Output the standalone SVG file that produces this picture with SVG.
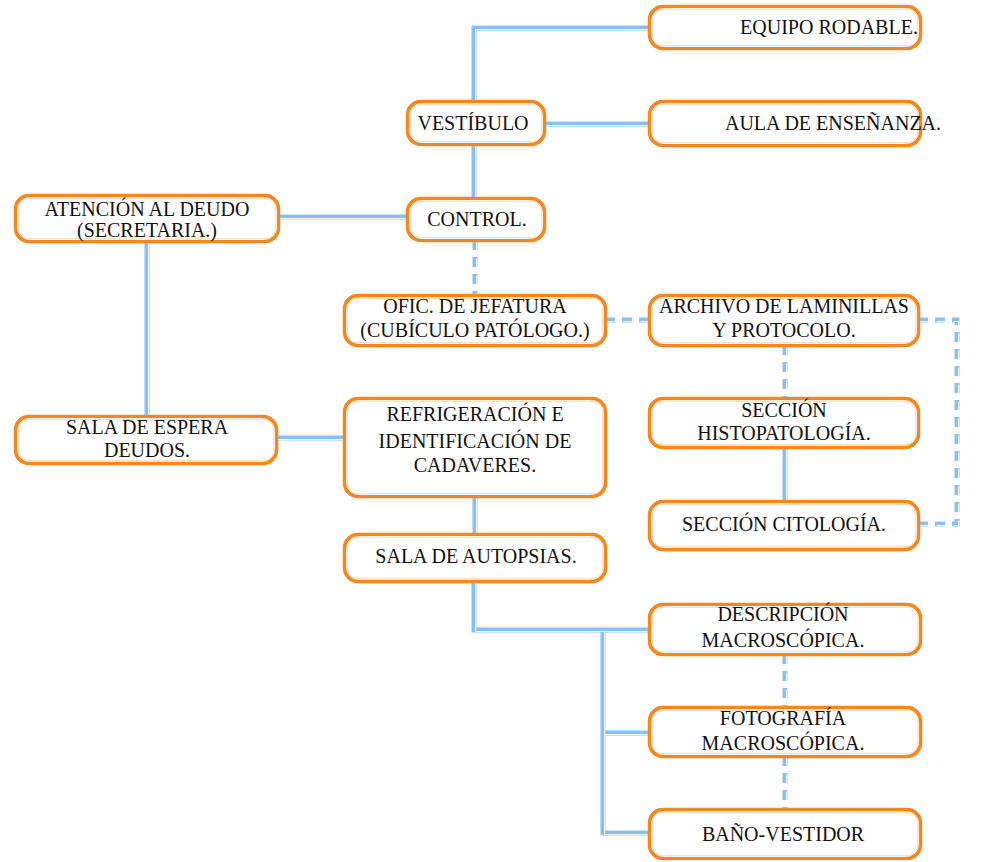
<svg xmlns="http://www.w3.org/2000/svg" width="995" height="862" viewBox="0 0 995 862">
<style>
.bx{fill:#fff;stroke:#f6861e;stroke-width:4.5}
.bi{fill:none;stroke:#fff;stroke-width:0.9}
.t{font-family:"Liberation Serif","Times New Roman",serif;font-size:20px;fill:#111;text-anchor:middle}
.c{fill:none;stroke:#86c0f7;stroke-width:5}
.ci{fill:none;stroke:#fff;stroke-width:1}
.d{fill:none;stroke:#86c0f7;stroke-width:5;stroke-dasharray:10 7}
.di{fill:none;stroke:#fff;stroke-width:1;stroke-dasharray:10 7}
</style>
<rect width="995" height="862" fill="#fff"/>
<g id="connectors">
<path class="c" d="M474,102 V28 H650"/>
<path class="c" d="M544,124 H650"/>
<path class="c" d="M474,144 V199"/>
<path class="c" d="M278,217 H408"/>
<path class="d" d="M475,240 V296"/>
<path class="c" d="M147,241 V417"/>
<path class="d" d="M605,320 H650"/>
<path class="d" d="M918,320 H957 V524 H918"/>
<path class="d" d="M785,345 V399"/>
<path class="c" d="M785,447 V502"/>
<path class="c" d="M276,438 H345"/>
<path class="c" d="M475,496 V535"/>
<path class="c" d="M474,581 V630 H650"/>
<path class="c" d="M603,630 V833 H650 M603,733 H650"/>
<path class="d" d="M785,654 V708"/>
<path class="d" d="M785,756 V810"/>
<g transform="translate(1.6,1.6)">
<path class="ci" d="M474,102 V28 H650"/>
<path class="ci" d="M544,124 H650"/>
<path class="ci" d="M474,144 V199"/>
<path class="ci" d="M278,217 H408"/>
<path class="di" d="M475,240 V296"/>
<path class="ci" d="M147,241 V417"/>
<path class="di" d="M605,320 H650"/>
<path class="di" d="M918,320 H957 V524 H918"/>
<path class="di" d="M785,345 V399"/>
<path class="ci" d="M785,447 V502"/>
<path class="ci" d="M276,438 H345"/>
<path class="ci" d="M475,496 V535"/>
<path class="ci" d="M474,581 V630 H650"/>
<path class="ci" d="M603,630 V833 H650 M603,733 H650"/>
<path class="di" d="M785,654 V708"/>
<path class="di" d="M785,756 V810"/>
</g>
</g>
<g id="equipo"><rect class="bx" x="650" y="7" width="270" height="41" rx="13"/><rect class="bi" x="651.5" y="8.5" width="267" height="38" rx="12"/><text class="t" x="829" y="34">EQUIPO RODABLE.</text></g>
<g id="vestibulo"><rect class="bx" x="408" y="102" width="136" height="42" rx="13"/><rect class="bi" x="409.5" y="103.5" width="133" height="39" rx="12"/><text class="t" x="473" y="130">VESTÍBULO</text></g>
<g id="aula"><rect class="bx" x="650" y="102" width="270" height="43" rx="13"/><rect class="bi" x="651.5" y="103.5" width="267" height="40" rx="12"/><text class="t" x="833" y="130">AULA DE ENSEÑANZA.</text></g>
<g id="atencion"><rect class="bx" x="16" y="196" width="262" height="45" rx="13"/><rect class="bi" x="17.5" y="197.5" width="259" height="42" rx="12"/><text class="t" x="147" y="216">ATENCIÓN AL DEUDO</text><text class="t" x="147" y="237">(SECRETARIA.)</text></g>
<g id="control"><rect class="bx" x="408" y="199" width="136" height="41" rx="13"/><rect class="bi" x="409.5" y="200.5" width="133" height="38" rx="12"/><text class="t" x="477" y="226">CONTROL.</text></g>
<g id="ofic"><rect class="bx" x="345" y="296" width="260" height="49" rx="13"/><rect class="bi" x="346.5" y="297.5" width="257" height="46" rx="12"/><text class="t" x="475" y="313">OFIC. DE JEFATURA</text><text class="t" x="475" y="337">(CUBÍCULO PATÓLOGO.)</text></g>
<g id="archivo"><rect class="bx" x="650" y="296" width="268" height="49" rx="13"/><rect class="bi" x="651.5" y="297.5" width="265" height="46" rx="12"/><text class="t" x="784" y="313">ARCHIVO DE LAMINILLAS</text><text class="t" x="784" y="337">Y PROTOCOLO.</text></g>
<g id="histo"><rect class="bx" x="650" y="399" width="268" height="48" rx="13"/><rect class="bi" x="651.5" y="400.5" width="265" height="45" rx="12"/><text class="t" x="784" y="417">SECCIÓN</text><text class="t" x="784" y="440">HISTOPATOLOGÍA.</text></g>
<g id="cito"><rect class="bx" x="650" y="502" width="268" height="47" rx="13"/><rect class="bi" x="651.5" y="503.5" width="265" height="44" rx="12"/><text class="t" x="784" y="531">SECCIÓN CITOLOGÍA.</text></g>
<g id="espera"><rect class="bx" x="16" y="417" width="260" height="46" rx="13"/><rect class="bi" x="17.5" y="418.5" width="257" height="43" rx="12"/><text class="t" x="147" y="434">SALA DE ESPERA</text><text class="t" x="147" y="457">DEUDOS.</text></g>
<g id="refrig"><rect class="bx" x="345" y="399" width="260" height="97" rx="13"/><rect class="bi" x="346.5" y="400.5" width="257" height="94" rx="12"/><text class="t" x="475" y="421">REFRIGERACIÓN E</text><text class="t" x="475" y="448">IDENTIFICACIÓN DE</text><text class="t" x="475" y="472">CADAVERES.</text></g>
<g id="autopsias"><rect class="bx" x="345" y="535" width="260" height="46" rx="13"/><rect class="bi" x="346.5" y="536.5" width="257" height="43" rx="12"/><text class="t" x="476" y="563">SALA DE AUTOPSIAS.</text></g>
<g id="descripcion"><rect class="bx" x="650" y="605" width="270" height="49" rx="13"/><rect class="bi" x="651.5" y="606.5" width="267" height="46" rx="12"/><text class="t" x="783" y="621">DESCRIPCIÓN</text><text class="t" x="783" y="647">MACROSCÓPICA.</text></g>
<g id="fotografia"><rect class="bx" x="650" y="708" width="270" height="48" rx="13"/><rect class="bi" x="651.5" y="709.5" width="267" height="45" rx="12"/><text class="t" x="783" y="725">FOTOGRAFÍA</text><text class="t" x="783" y="750">MACROSCÓPICA.</text></g>
<g id="bano"><rect class="bx" x="650" y="810" width="270" height="48" rx="13"/><rect class="bi" x="651.5" y="811.5" width="267" height="45" rx="12"/><text class="t" x="783" y="841">BAÑO-VESTIDOR</text></g>
</svg>
